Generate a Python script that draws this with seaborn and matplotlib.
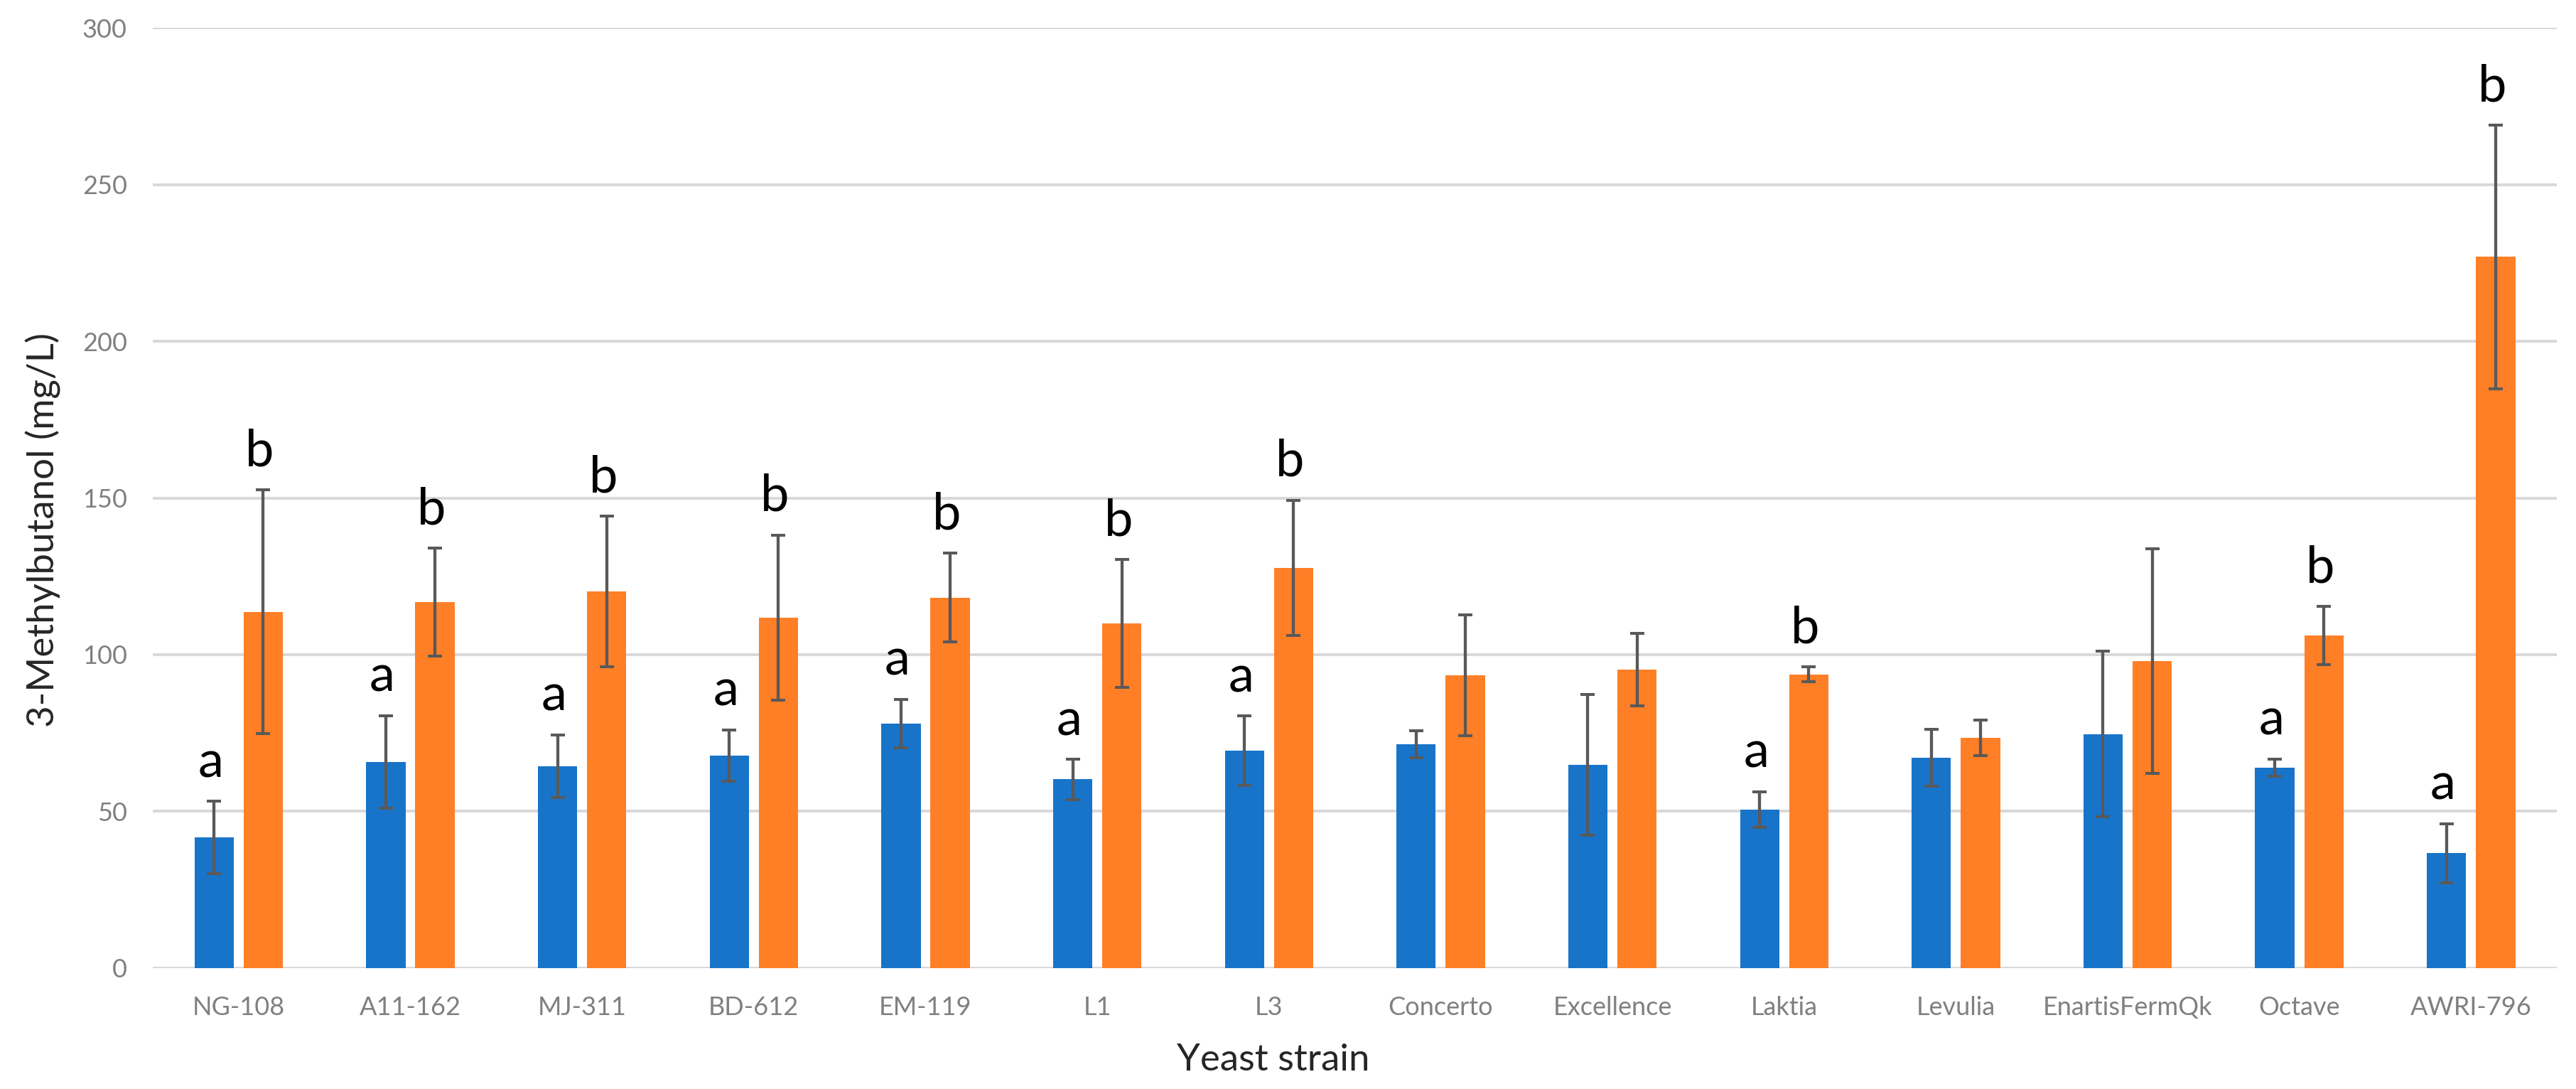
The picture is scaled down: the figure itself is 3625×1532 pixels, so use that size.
import numpy as np
import pandas as pd
import matplotlib
matplotlib.use("Agg")
import matplotlib.pyplot as plt
import seaborn as sns

# strains on the x axis
strains = ["NG-108", "A11-162", "MJ-311", "BD-612", "EM-119", "L1", "L3",
           "Concerto", "Excellence", "Laktia", "Levulia", "EnartisFermQk",
           "Octave", "AWRI-796"]

# blue series (mean, sd)
blue_mean = [41.7, 65.8, 64.4, 67.8, 78.0, 60.2, 69.3, 71.4, 64.8, 50.6, 67.1, 74.7, 64.0, 36.7]
blue_sd = [11.5, 14.8, 10.0, 8.2, 7.8, 6.4, 11.1, 4.3, 22.5, 5.7, 9.0, 26.5, 2.7, 9.4]

# orange series (mean, sd)
orange_mean = [113.7, 116.8, 120.2, 111.8, 118.2, 109.9, 127.7, 93.4, 95.3, 93.7, 73.5, 98.0, 106.1, 226.9]
orange_sd = [38.8, 17.2, 24.0, 26.3, 14.2, 20.4, 21.6, 19.3, 11.6, 2.4, 5.7, 35.9, 9.3, 42.0]

# significance letters ("" = none)
blue_letter = ["a", "a", "a", "a", "a", "a", "a", "", "", "a", "", "", "a", "a"]
orange_letter = ["b", "b", "b", "b", "b", "b", "b", "", "", "b", "", "", "b", "b"]

series = ["Series 1", "Series 2"]
colors = ["#1874c9", "#ff7f27"]

df = pd.DataFrame({
    "strain": strains * 2,
    "series": [series[0]] * len(strains) + [series[1]] * len(strains),
    "value": blue_mean + orange_mean,
})

sns.set_style("white")
plt.rcParams["font.family"] = ["Lato", "DejaVu Sans"]

fig = plt.figure(figsize=(36.25, 15.32), dpi=100)
ax = fig.add_axes([0.0593, 0.111, 0.9333, 0.8635])

sns.barplot(data=df, x="strain", y="value", hue="series", palette=colors,
            errorbar=None, width=0.572, gap=0.2, legend=False, ax=ax,
            saturation=1, linewidth=0)

sds = [blue_sd, orange_sd]
means = [blue_mean, orange_mean]
letters = [blue_letter, orange_letter]
bar_groups = list(ax.containers)
for k, cont in enumerate(bar_groups):
    xs = [p.get_x() + p.get_width() / 2 for p in cont.patches]
    ax.errorbar(xs, means[k], yerr=sds[k], fmt="none", ecolor="#595959",
                elinewidth=3.1, capsize=7.2, capthick=2.9, zorder=3)
    for x, m, s, t in zip(xs, means[k], sds[k], letters[k]):
        if t:
            ax.text(x - 0.02, m + s + 5, t, ha="center", va="bottom",
                    fontsize=52, color="black")

ax.set_ylim(0, 300)
ax.set_yticks(np.arange(0, 301, 50))
ax.set_xlim(-0.5, len(strains) - 0.5)
ax.yaxis.grid(True, color="#d9d9d9", linewidth=2.9)
ax.set_axisbelow(True)
sns.despine(ax=ax, left=True, bottom=True)

ax.tick_params(axis="both", length=0, labelsize=26, labelcolor="#808080")
ax.tick_params(axis="x", pad=28)
ax.tick_params(axis="y", pad=26)
ax.set_xlabel("Yeast strain", fontsize=38, va="baseline")
ax.set_ylabel("3-Methylbutanol (mg/L)", fontsize=38, va="baseline")
ax.xaxis.set_label_coords(0.466, -0.1088)
ax.yaxis.set_label_coords(-0.0408, 0.466)

fig.savefig("out.png", dpi=100)
